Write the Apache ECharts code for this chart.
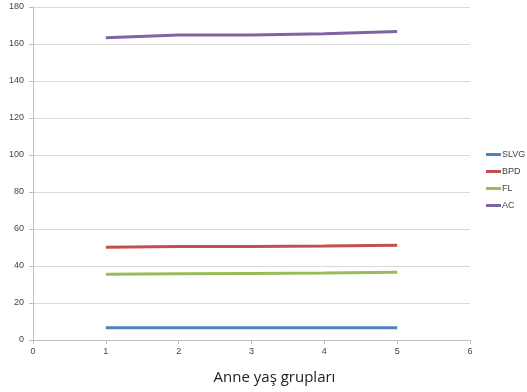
<!DOCTYPE html>
<html><head><meta charset="utf-8">
<script src="https://cdn.jsdelivr.net/npm/echarts@6/dist/echarts.min.js"></script>
<style>html,body{margin:0;padding:0;background:#fff}#c{width:527px;height:392px}</style>
</head><body><div id="c"></div>
<script>
const xValues = [1, 2, 3, 4, 5];
const seriesNames = ['SLVG', 'BPD', 'FL', 'AC'];
const slvg = [6.6, 6.6, 6.6, 6.6, 6.6];
const bpd = [50.1, 50.5, 50.6, 50.8, 51.2];
const fl = [35.5, 35.8, 36.0, 36.2, 36.6];
const ac = [163.4, 164.8, 164.9, 165.6, 166.8];
const colors = ['#4F81BD', '#C0504D', '#9BBB59', '#8064A2'];
const allData = [slvg, bpd, fl, ac];

const chart = echarts.init(document.getElementById('c'), null, {renderer: 'canvas'});
chart.setOption({
  animation: false,
  backgroundColor: '#fff',
  grid: {left: 33, right: 57, top: 7, bottom: 52},
  legend: {
    orient: 'vertical', left: 481, top: 145,
    itemGap: 8, itemWidth: 15, itemHeight: 3, icon: 'rect',
    textStyle: {fontSize: 9, color: '#404040', fontFamily: 'Liberation Sans', padding: [0,0,0,-4]},
    data: seriesNames
  },
  xAxis: {
    type: 'value', min: 0, max: 6, interval: 1,
    name: 'Anne yaş grupları', nameLocation: 'middle', nameGap: 30,
    nameTextStyle: {fontSize: 15, color: '#222', fontFamily: 'Open Sans', padding: [0,0,0,46]},
    axisLine: {show: true, lineStyle: {color: '#bfbfbf'}},
    axisTick: {show: true, length: 4, lineStyle: {color: '#bfbfbf'}},
    axisLabel: {fontSize: 9, color: '#444', margin: 7, fontFamily: 'Liberation Sans'},
    splitLine: {show: false}
  },
  yAxis: {
    type: 'value', min: 0, max: 180, interval: 20,
    axisLine: {show: true, lineStyle: {color: '#bfbfbf'}},
    axisTick: {show: true, length: 4, lineStyle: {color: '#bfbfbf'}},
    axisLabel: {fontSize: 9, color: '#444', margin: 9, fontFamily: 'Liberation Sans'},
    splitLine: {show: true, lineStyle: {color: '#d9d9d9'}}
  },
  series: seriesNames.map((n, i) => ({
    name: n, type: 'line', showSymbol: false, symbol: 'none',
    data: xValues.map((x, j) => [x, allData[i][j]]),
    lineStyle: {width: 3, color: colors[i]},
    itemStyle: {color: colors[i]}
  }))
});
</script></body></html>
